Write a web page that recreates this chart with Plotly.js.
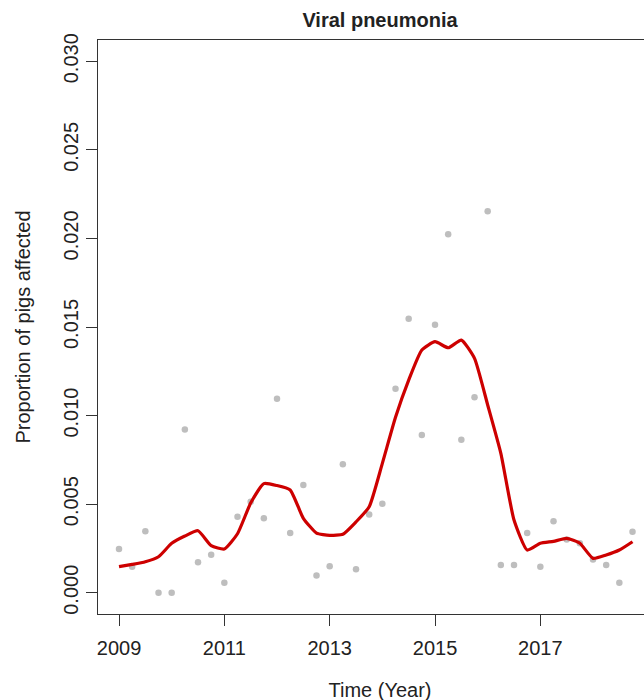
<!DOCTYPE html>
<html>
<head>
<meta charset="utf-8">
<script src="https://cdn.plot.ly/plotly-3.0.1.min.js"></script>
<style>
  html, body { margin: 0; padding: 0; overflow: hidden; background: #fff; }
  #chart { width: 700px; height: 720px; }
</style>
</head>
<body>
<div id="chart"></div>
<script>
// Quarterly observation times (years)
var obsTime = [
  2009.00, 2009.25, 2009.50, 2009.75, 2010.00, 2010.25, 2010.50, 2010.75,
  2011.00, 2011.25, 2011.50, 2011.75, 2012.00, 2012.25, 2012.50, 2012.75,
  2013.00, 2013.25, 2013.50, 2013.75, 2014.00, 2014.25, 2014.50, 2014.75,
  2015.00, 2015.25, 2015.50, 2015.75, 2016.00, 2016.25, 2016.50, 2016.75,
  2017.00, 2017.25, 2017.50, 2017.75, 2018.00, 2018.25, 2018.50, 2018.75
];
// Observed proportion of pigs affected (grey points)
var obsProp = [
  0.00247, 0.00147, 0.00347, 0.00000, 0.00000, 0.00922, 0.00172, 0.00215,
  0.00056, 0.00429, 0.00514, 0.00420, 0.01095, 0.00337, 0.00608, 0.00098,
  0.00149, 0.00725, 0.00132, 0.00442, 0.00502, 0.01152, 0.01547, 0.00890,
  0.01513, 0.02023, 0.00864, 0.01103, 0.02153, 0.00156, 0.00156, 0.00337,
  0.00147, 0.00403, 0.00300, 0.00280, 0.00188, 0.00156, 0.00056, 0.00344
];
// Smoothed trend (red line)
var trendProp = [
  0.00147, 0.00160, 0.00175, 0.00203, 0.00279, 0.00320, 0.00350, 0.00266,
  0.00247, 0.00333, 0.00506, 0.00616, 0.00605, 0.00580, 0.00420, 0.00337,
  0.00324, 0.00330, 0.00400, 0.00485, 0.00730, 0.00990, 0.01200, 0.01370,
  0.01417, 0.01383, 0.01426, 0.01323, 0.01060, 0.00787, 0.00410, 0.00241,
  0.00279, 0.00290, 0.00307, 0.00279, 0.00194, 0.00213, 0.00241, 0.00288
];
var xTicks = [2009, 2011, 2013, 2015, 2017];
var yTicks = [0, 0.005, 0.010, 0.015, 0.020, 0.025, 0.030];

var FONT = "Liberation Sans, Arial, sans-serif";
var TXT = "#222";

var traces = [
  {
    x: obsTime, y: obsProp, type: "scatter", mode: "markers",
    marker: { color: "#bebebe", size: 6.5, line: { width: 0 } },
    hoverinfo: "x+y", showlegend: false
  },
  {
    x: obsTime, y: trendProp, type: "scatter", mode: "lines",
    line: { color: "#cd0000", width: 3.2, shape: "spline", smoothing: 0.5 },
    hoverinfo: "x+y", showlegend: false
  }
];

var layout = {
  width: 700, height: 720,
  margin: { l: 98, r: 38, t: 40, b: 106, pad: 0 },
  paper_bgcolor: "#fff", plot_bgcolor: "#fff",
  font: { family: FONT, size: 20, color: TXT },
  title: {
    text: "Viral pneumonia",
    font: { family: FONT, size: 20, color: TXT, weight: 700 },
    x: 0.5, xref: "paper", xanchor: "center",
    y: 1 - 20 / 720, yref: "container", yanchor: "middle"
  },
  xaxis: {
    range: [2008.601, 2019.31],
    tickmode: "array", tickvals: xTicks, ticktext: xTicks.map(String),
    ticks: "outside", ticklen: 11, tickwidth: 1, tickcolor: "#333",
    ticklabelstandoff: 5,
    showline: true, linecolor: "#333", linewidth: 1, mirror: true,
    showgrid: false, zeroline: false,
    tickfont: { family: FONT, size: 20, color: TXT },
    title: { text: "Time (Year)", font: { family: FONT, size: 20, color: TXT }, standoff: 24 },
    automargin: false
  },
  yaxis: {
    range: [-0.0012, 0.0312],
    tickmode: "array", tickvals: yTicks,
    ticktext: yTicks.map(function (v) { return v.toFixed(3); }),
    tickangle: -90,
    ticks: "outside", ticklen: 11, tickwidth: 1, tickcolor: "#333",
    showline: true, linecolor: "#333", linewidth: 1, mirror: true,
    showgrid: false, zeroline: false,
    tickfont: { family: FONT, size: 20, color: TXT },
    title: { text: "Proportion of pigs affected", font: { family: FONT, size: 20, color: TXT }, standoff: 24 },
    automargin: false
  }
};

Plotly.newPlot("chart", traces, layout, { displayModeBar: false, staticPlot: true });
</script>
</body>
</html>
